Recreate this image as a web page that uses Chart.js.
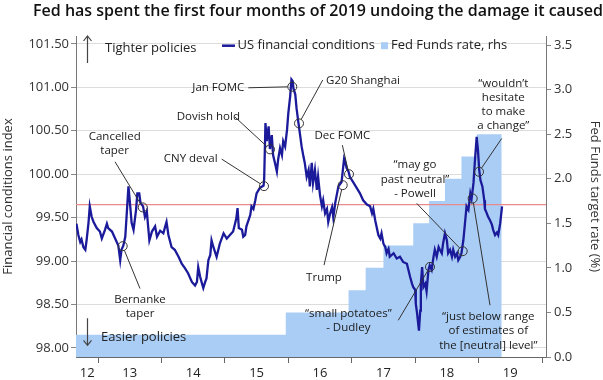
<!DOCTYPE html>
<html><head><meta charset="utf-8">
<script src="https://cdn.jsdelivr.net/npm/chart.js@4.4.1/dist/chart.umd.min.js"></script>
<style>html,body{margin:0;padding:0;background:#fff}#wrap{width:603px;height:380px}</style>
</head><body><div id="wrap"><canvas id="c" width="603" height="380"></canvas></div>
<script>
// ---- Data (decimal years) ----
const fciYears = [
  2012.66, 2012.69, 2012.72, 2012.74, 2012.77, 2012.80, 2012.82, 2012.85, 2012.87, 2012.90, 2012.93, 2012.98,
  2013.03, 2013.06, 2013.11, 2013.14, 2013.16, 2013.22, 2013.27, 2013.32, 2013.35, 2013.37, 2013.40, 2013.43, 2013.45, 2013.48, 2013.50, 2013.53, 2013.56, 2013.60, 2013.62, 2013.65, 2013.67, 2013.71, 2013.74, 2013.77, 2013.79, 2013.81, 2013.85, 2013.90, 2013.93, 2013.98,
  2014.03, 2014.06, 2014.08, 2014.11, 2014.16, 2014.21, 2014.27, 2014.32, 2014.37, 2014.42, 2014.48, 2014.53, 2014.56, 2014.58, 2014.61, 2014.64, 2014.66, 2014.69, 2014.71, 2014.74, 2014.77, 2014.79, 2014.82, 2014.87, 2014.92, 2014.98,
  2015.03, 2015.08, 2015.13, 2015.18, 2015.20, 2015.22, 2015.27, 2015.29, 2015.32, 2015.34, 2015.40, 2015.42, 2015.45, 2015.48, 2015.50, 2015.55, 2015.61, 2015.62, 2015.64, 2015.66, 2015.69, 2015.71, 2015.74, 2015.76, 2015.79, 2015.82, 2015.84, 2015.87, 2015.90, 2015.92, 2015.95, 2015.98,
  2016.00, 2016.03, 2016.05, 2016.07, 2016.08, 2016.11, 2016.13, 2016.16, 2016.19, 2016.21, 2016.24, 2016.26, 2016.29, 2016.32, 2016.34, 2016.37, 2016.39, 2016.42, 2016.45, 2016.47, 2016.50, 2016.53, 2016.55, 2016.58, 2016.61, 2016.63, 2016.66, 2016.69, 2016.71, 2016.74, 2016.79, 2016.84, 2016.88, 2016.89, 2016.92, 2016.95, 2016.97,
  2017.03, 2017.08, 2017.13, 2017.18, 2017.24, 2017.29, 2017.32, 2017.34, 2017.37, 2017.42, 2017.45, 2017.47, 2017.50, 2017.53, 2017.55, 2017.58, 2017.60, 2017.66, 2017.71, 2017.76, 2017.81, 2017.87, 2017.92, 2017.95, 2017.97,
  2018.00, 2018.01, 2018.03, 2018.06, 2018.08, 2018.09, 2018.11, 2018.13, 2018.16, 2018.18, 2018.21, 2018.23, 2018.26, 2018.29, 2018.31, 2018.34, 2018.37, 2018.39, 2018.42, 2018.44, 2018.47, 2018.50, 2018.52, 2018.55, 2018.58, 2018.60, 2018.63, 2018.66, 2018.68, 2018.71, 2018.73, 2018.76, 2018.79, 2018.81, 2018.84, 2018.87, 2018.89, 2018.92, 2018.94, 2018.97, 2018.99,
  2019.01, 2019.03, 2019.06, 2019.09, 2019.10, 2019.13, 2019.15, 2019.18, 2019.21, 2019.23, 2019.26, 2019.29, 2019.31, 2019.34, 2019.37
];
const fciValues = [
  99.43, 99.30, 99.22, 99.25, 99.16, 99.13, 99.24, 99.44, 99.63, 99.51, 99.45, 99.38,
  99.34, 99.26, 99.36, 99.43, 99.38, 99.34, 99.26, 99.18, 99.01, 99.13, 99.18, 99.28, 99.51, 99.86, 99.70, 99.44, 99.36, 99.59, 99.78, 99.78, 99.67, 99.63, 99.51, 99.57, 99.40, 99.24, 99.34, 99.40, 99.28, 99.35,
  99.32, 99.40, 99.45, 99.30, 99.16, 99.13, 99.05, 98.97, 98.92, 98.86, 98.76, 98.72, 98.76, 98.93, 98.82, 98.74, 98.69, 98.76, 98.80, 99.01, 99.07, 99.24, 99.16, 99.05, 99.20, 99.32,
  99.26, 99.30, 99.34, 99.49, 99.61, 99.38, 99.36, 99.28, 99.30, 99.40, 99.53, 99.63, 99.60, 99.70, 99.78, 99.84, 99.87, 99.95, 100.59, 100.38, 100.55, 100.29, 100.45, 100.22, 100.13, 100.03, 100.17, 100.30, 100.22, 100.38, 100.32, 100.51,
  100.70, 100.90, 101.09, 101.07, 100.99, 100.92, 100.76, 100.59, 100.43, 100.32, 100.20, 100.13, 99.97, 100.05, 99.86, 100.13, 99.90, 100.05, 99.82, 99.97, 99.76, 99.63, 99.70, 99.55, 99.60, 99.45, 99.55, 99.62, 99.50, 99.67, 99.86, 99.91, 100.18, 100.16, 100.07, 100.03, 99.97,
  99.90, 99.84, 99.78, 99.70, 99.65, 99.63, 99.55, 99.60, 99.47, 99.30, 99.26, 99.32, 99.20, 99.16, 99.09, 99.14, 99.05, 99.09, 99.03, 99.05, 98.99, 98.97, 98.82, 98.74, 98.70,
  98.67, 98.51, 98.40, 98.20, 98.43, 98.74, 98.93, 98.70, 98.74, 98.65, 98.90, 98.95, 98.90, 99.05, 99.13, 99.05, 99.16, 99.13, 99.09, 99.20, 99.32, 99.24, 99.09, 99.13, 99.05, 99.13, 99.05, 99.09, 99.01, 99.05, 99.09, 99.24, 99.47, 99.63, 99.59, 99.78, 99.72, 99.90, 100.13, 100.43, 100.28,
  100.05, 99.93, 99.86, 99.70, 99.60, 99.55, 99.51, 99.47, 99.42, 99.36, 99.30, 99.33, 99.30, 99.43, 99.63
];
const ffDates = [2012.65, 2015.96, 2016.95, 2017.22, 2017.50, 2017.97, 2018.22, 2018.47, 2018.73, 2018.97, 2019.365];
const ffRates = [0.25, 0.50, 0.75, 1.00, 1.25, 1.50, 1.75, 2.00, 2.25, 2.50, 2.50];
const neutralLevel = 99.65;
const yearTickValues = [2013, 2014, 2015, 2016, 2017, 2018, 2019, 2020];
const yearLabelValues = [2012.83, 2013.5, 2014.5, 2015.5, 2016.5, 2017.5, 2018.5, 2019.5];
const yearLabels = ['12', '13', '14', '15', '16', '17', '18', '19'];
const fciTicks = [98, 98.5, 99, 99.5, 100, 100.5, 101, 101.5];
const rateTicks = [0, 0.5, 1, 1.5, 2, 2.5, 3, 3.5];

// annotation: text lines, label centre (year, index), leader start, circled point
const notes = [
  {lines:['Cancelled','taper'], tx:2013.263, ty:100.431, fx:2013.268, fv:100.143, cx:2013.705, cv:99.618},
  {lines:['Bernanke','taper'], tx:2013.662, ty:98.558, fx:2013.662, fv:98.684, cx:2013.389, cv:99.172},
  {lines:['CNY deval'], tx:2014.461, ty:100.174, fx:2014.950, fv:100.174, cx:2015.617, cv:99.863},
  {lines:['Dovish hold'], tx:2014.739, ty:100.661, fx:2015.160, fv:100.658, cx:2015.712, cv:100.286},
  {lines:['Jan FOMC'], tx:2014.897, ty:100.995, fx:2015.370, fv:100.995, cx:2016.063, cv:101.007},
  {lines:['G20 Shanghai'], tx:2017.178, ty:101.073, fx:2016.543, fv:101.084, cx:2016.169, cv:100.585},
  {lines:['Dec FOMC'], tx:2016.852, ty:100.439, fx:2016.852, fv:100.335, cx:2016.957, cv:100.0},
  {lines:['Trump'], tx:2016.563, ty:98.806, fx:2016.563, fv:98.953, cx:2016.858, cv:99.874},
  {lines:['\u201csmall potatoes\u201d','- Dudley'], tx:2016.946, ty:98.396, fx:2017.734, fv:98.319, cx:2018.234, cv:98.933},
  {lines:['\u201cmay go','past neutral\u201d','- Powell'], tx:2017.998, ty:100.105, fx:2018.025, fv:99.664, cx:2018.750, cv:99.114},
  {lines:['\u201cwouldn\u2019t','hesitate','to make','a change\u201d'], tx:2019.390, ty:101.046, fx:2019.365, fv:100.412, cx:2019.007, cv:100.028},
  {lines:['\u201cjust below range','of estimates of','the [neutral] level\u201d'], tx:2019.153, ty:98.357, fx:2019.180, fv:98.492, cx:2018.907, cv:99.721}
];

const LINE_BLUE = '#1a1a9a';
const FILL_BLUE = '#aacdf5';
const FONT = '"Open Sans", "Noto Sans", sans-serif';

const overlay = {
  id: 'overlay',
  afterDatasetsDraw(chart) {
    const {ctx, scales} = chart;
    const x = scales.x, y = scales.y;
    ctx.save();
    const r = 4.5;
    ctx.font = '11.5px ' + FONT;
    ctx.textAlign = 'center';
    ctx.textBaseline = 'middle';
    notes.forEach(a => {
      const cx = x.getPixelForValue(a.cx), cy = y.getPixelForValue(a.cv);
      const fx = x.getPixelForValue(a.fx), fy = y.getPixelForValue(a.fv);
      const dx = cx - fx, dy = cy - fy, d = Math.hypot(dx, dy);
      ctx.strokeStyle = '#333'; ctx.lineWidth = 1;
      ctx.beginPath(); ctx.moveTo(fx, fy); ctx.lineTo(cx - dx / d * r, cy - dy / d * r); ctx.stroke();
      ctx.beginPath(); ctx.arc(cx, cy, r, 0, Math.PI * 2); ctx.stroke();
      const tx = x.getPixelForValue(a.tx), ty = y.getPixelForValue(a.ty);
      ctx.fillStyle = '#1a1a1a';
      a.lines.forEach((l, i) => ctx.fillText(l, tx, ty + i * 14.2));
    });
    // legend
    const ca = chart.chartArea;
    const ly = ca.top + 9.7;
    ctx.strokeStyle = LINE_BLUE; ctx.lineWidth = 2.5;
    ctx.beginPath(); ctx.moveTo(222, ly); ctx.lineTo(235, ly); ctx.stroke();
    ctx.font = '13px ' + FONT; ctx.textAlign = 'left'; ctx.fillStyle = '#222';
    ctx.fillText('US financial conditions', 237.5, ly);
    ctx.fillStyle = FILL_BLUE; ctx.fillRect(381, ly - 3.5, 7, 7);
    ctx.fillStyle = '#222';
    ctx.fillText('Fed Funds rate, rhs', 391, ly);
    // policy arrows
    ctx.fillText('Tighter policies', 105, ca.top + 12.3);
    ctx.fillText('Easier policies', 101, ca.bottom - 19.4);
    ctx.strokeStyle = '#444'; ctx.lineWidth = 1.2;
    const ax = 87.5;
    ctx.beginPath(); ctx.moveTo(ax, ca.top + 27); ctx.lineTo(ax, ca.top); 
    ctx.moveTo(ax - 4, ca.top + 5); ctx.lineTo(ax, ca.top); ctx.lineTo(ax + 4, ca.top + 5); ctx.stroke();
    const by1 = ca.bottom - 38.7, by2 = ca.bottom - 11.7;
    ctx.beginPath(); ctx.moveTo(ax, by1); ctx.lineTo(ax, by2);
    ctx.moveTo(ax - 4, by2 - 5); ctx.lineTo(ax, by2); ctx.lineTo(ax + 4, by2 - 5); ctx.stroke();
    ctx.restore();
  }
};

function build() {
  const fciData = fciYears.map((t, i) => ({x: t, y: fciValues[i]}));
  const ffData = ffDates.map((t, i) => ({x: t, y: ffRates[i]}));
  const xMin = 2012.653, xMax = 2020.063;
  const refData = [{x: xMin, y: neutralLevel}, {x: xMax, y: neutralLevel}];
  new Chart(document.getElementById('c'), {
    type: 'line',
    data: {
      datasets: [
        {label: 'US financial conditions', data: fciData, yAxisID: 'y', borderColor: LINE_BLUE, borderWidth: 2.3,
         pointRadius: 0, tension: 0, order: 1},
        {label: 'neutral', data: refData, yAxisID: 'y', borderColor: '#e88a8c', borderWidth: 1.2, pointRadius: 0, order: 2},
        {label: 'Fed Funds rate, rhs', data: ffData, yAxisID: 'y1', stepped: 'before', borderWidth: 0,
         borderColor: FILL_BLUE, backgroundColor: FILL_BLUE, fill: 'origin', pointRadius: 0, order: 3}
      ]
    },
    options: {
      responsive: false, animation: false, devicePixelRatio: 1,
      layout: {padding: 0},
      plugins: {
        legend: {display: false}, tooltip: {enabled: false},
        title: {display: true, text: 'Fed has spent the first four months of 2019 undoing the damage it caused',
          align: 'end', color: '#111', font: {family: FONT, size: 16, weight: '600'}, padding: {top: 2, bottom: 14.8}}
      },
      scales: {
        x: {
          type: 'linear', min: xMin, max: xMax, position: 'bottom',
          afterBuildTicks: s => { s.ticks = yearTickValues.concat(yearLabelValues).sort((a, b) => a - b).map(v => ({value: v})); },
          afterFit: s => { s.height = 23; },
          grid: {drawOnChartArea: false, drawTicks: true, tickLength: 6,
            tickColor: c => (c.tick && yearTickValues.includes(c.tick.value)) ? '#666' : 'rgba(0,0,0,0)'},
          border: {display: true, color: '#666', width: 1},
          ticks: {autoSkip: false, maxRotation: 0, padding: 2, color: '#222', font: {family: FONT, size: 13},
            callback: v => { const i = yearLabelValues.indexOf(v); return i >= 0 ? yearLabels[i] : ''; }}
        },
        y: {
          type: 'linear', position: 'left', min: 97.896, max: 101.591,
          afterBuildTicks: s => { s.ticks = fciTicks.map(v => ({value: v})); },
          afterFit: s => { s.width = 76; },
          grid: {color: '#dcdcdc', lineWidth: 1, tickLength: 5, tickColor: '#888'},
          border: {display: true, color: '#777', width: 1},
          ticks: {color: '#333', padding: 2, font: {family: FONT, size: 13}, callback: v => Number(v).toFixed(2)},
          title: {display: true, text: 'Financial conditions index', color: '#333', font: {family: FONT, size: 13}, padding: 0}
        },
        y1: {
          type: 'linear', position: 'right', min: 0, max: 3.601,
          afterBuildTicks: s => { s.ticks = rateTicks.map(v => ({value: v})); },
          afterFit: s => { s.width = 57; },
          grid: {drawOnChartArea: false, tickLength: 5, tickColor: '#888'},
          border: {display: true, color: '#777', width: 1},
          ticks: {color: '#333', padding: 3, font: {family: FONT, size: 13}, callback: v => Number(v).toFixed(1)},
          title: {display: true, text: 'Fed Funds target rate (%)', color: '#333', font: {family: FONT, size: 13}, padding: 0}
        }
      }
    },
    plugins: [overlay]
  });
}
if (document.fonts && document.fonts.load) {
  Promise.all([document.fonts.load('13px "Open Sans"'), document.fonts.load('600 16px "Open Sans"')]).then(build, build);
} else build();
</script>
</body></html>
